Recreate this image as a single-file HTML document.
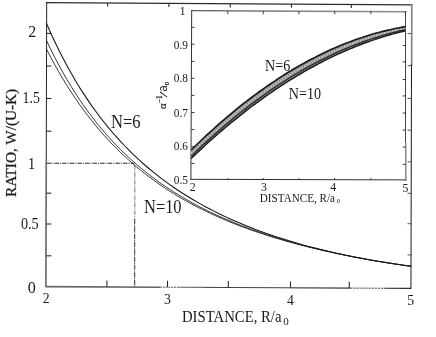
<!DOCTYPE html>
<html><head><meta charset="utf-8"><title>chart</title>
<style>
html,body{margin:0;padding:0;background:#fff;}
body{width:436px;height:337px;overflow:hidden;}
svg{display:block;font-family:"Liberation Serif",serif;filter:grayscale(1);}
text{fill:#1a1a1a;}
</style></head><body>
<svg width="436" height="337" viewBox="0 0 436 337">
<rect width="436" height="337" fill="#fff"/>

<g fill="none" stroke-linecap="square">
<path d="M46.7,2.6 L411.8,4.9" stroke="#2c2c2c" stroke-width="1.4"/>
<path d="M46.7,2.6 L46.25,163.3" stroke="#222" stroke-width="1.0"/>
<path d="M46.25,163.3 L45.9,286.5" stroke="#6e6e6e" stroke-width="1.7"/>
<path d="M45.9,286.60 L160,287.16" stroke="#666" stroke-width="1.55" stroke-linecap="butt"/>
<path d="M160,287.16 L178,287.25" stroke="#555" stroke-width="1.0" stroke-dasharray="2 0.8" stroke-linecap="butt"/>
<path d="M178,287.25 L205,287.38" stroke="#6a6a6a" stroke-width="1.15" stroke-linecap="butt"/>
<path d="M205,287.38 L290,287.80" stroke="#1c1c1c" stroke-width="0.85" stroke-linecap="butt"/>
<path d="M290,287.80 L350,288.10" stroke="#707070" stroke-width="1.55" stroke-linecap="butt"/>
<path d="M350,288.10 L385,288.27" stroke="#333" stroke-width="0.9" stroke-dasharray="2.2 0.9" stroke-linecap="butt"/>
<path d="M385,288.27 L411.0,288.40" stroke="#2a2a2a" stroke-width="1.2" stroke-linecap="butt"/>
<path d="M411.80,4.9 L411.64,65" stroke="#858585" stroke-width="1.7"/>
<path d="M411.49,65 L410.95,288.4" stroke="#1a1a1a" stroke-width="1.0"/>
</g>
<g fill="none" stroke="#2a2a2a" stroke-width="1.1" stroke-linecap="butt">
<path d="M46.3,33.4 h5"/>
<path d="M46.3,66 h5"/>
<path d="M46.3,98.5 h5"/>
<path d="M46.3,131.2 h5"/>
<path d="M46.3,193.2 h5"/>
<path d="M46.3,224 h5"/>
<path d="M46.3,255.8 h5"/>
<path d="M411.5,33.6 h-4" stroke="#555" stroke-width="1"/>
<path d="M411.5,65.7 h-4" stroke="#555" stroke-width="1"/>
<path d="M411.5,98.4 h-4" stroke="#555" stroke-width="1"/>
<path d="M411.5,130.2 h-4" stroke="#555" stroke-width="1"/>
<path d="M411.5,161.8 h-4" stroke="#555" stroke-width="1"/>
<path d="M411.5,193.3 h-4" stroke="#555" stroke-width="1"/>
<path d="M411.5,223.7 h-4" stroke="#555" stroke-width="1"/>
<path d="M411.5,254.9 h-4" stroke="#555" stroke-width="1"/>
<path d="M106.9,286.8 v-6.4"/>
<path d="M167.5,287.1 v-6.4"/>
<path d="M228.3,287.4 v-6.4"/>
<path d="M290.5,287.8 v-6.4"/>
<path d="M349.3,288.1 v-6.4"/>
<path d="M107.6,3.0 v3.6"/>
<path d="M168.9,3.4 v3.6"/>
<path d="M230.3,3.8 v3.6"/>
<path d="M291.5,4.1 v3.6"/>
<path d="M351.3,4.5 v3.6"/>
</g>
<g fill="none" stroke-linecap="square">
<path d="M191.7,10.7 L232,10.9" stroke="#333" stroke-width="1"/>
<path d="M232,10.9 L405.8,11.8" stroke="#8a8a8a" stroke-width="1.6"/>
<path d="M405.5,11.8 L405.5,143" stroke="#222" stroke-width="0.85"/>
<path d="M405.7,143 L405.8,179.9" stroke="#8a8a8a" stroke-width="1.5"/>
<path d="M405.8,179.9 L190.9,179.3" stroke="#2e2e2e" stroke-width="1"/>
<path d="M190.9,179.3 L191.7,10.7" stroke="#333" stroke-width="1"/>
</g>
<g fill="none" stroke="#2a2a2a" stroke-width="0.9" stroke-linecap="butt">
<path d="M191.3,27.3 h3.2"/>
<path d="M191.3,44.2 h3.2"/>
<path d="M191.3,61.4 h3.2"/>
<path d="M191.3,78.3 h3.2"/>
<path d="M191.3,95.4 h3.2"/>
<path d="M191.3,112.5 h3.2"/>
<path d="M191.3,129.5 h3.2"/>
<path d="M191.3,146.6 h3.2"/>
<path d="M191.3,163.5 h3.2"/>
<path d="M405.8,27.3 h-3.2"/>
<path d="M405.8,45.5 h-3.2"/>
<path d="M405.8,61.9 h-3.2"/>
<path d="M405.8,79.5 h-3.2"/>
<path d="M405.8,95.9 h-3.2"/>
<path d="M405.8,113 h-3.2"/>
<path d="M405.8,130 h-3.2"/>
<path d="M405.8,147.1 h-3.2"/>
<path d="M405.8,164.3 h-3.2"/>
<path d="M227.8,11.2 v3"/>
<path d="M227.8,179.6 v-1.5"/>
<path d="M263.3,11.2 v3"/>
<path d="M263.3,179.6 v-1.5"/>
<path d="M298.9,11.2 v3"/>
<path d="M298.9,179.6 v-1.5"/>
<path d="M334.7,11.2 v3"/>
<path d="M334.7,179.6 v-1.5"/>
<path d="M370.9,11.2 v3"/>
<path d="M370.9,179.6 v-1.5"/>
</g>
<path d="M47,163.3 H134.3" fill="none" stroke="#262626" stroke-width="1.05" stroke-dasharray="4.4 1 1.1 1.1"/>
<path d="M134.8,165 V219" fill="none" stroke="#8a8a8a" stroke-width="1.2" stroke-dasharray="4.4 1 1.1 1.1"/>
<path d="M134.7,219 V286.6" fill="none" stroke="#222" stroke-width="0.95" stroke-dasharray="5.2 0.7 1.0 0.7"/>
<g fill="none" stroke="#151515" stroke-width="1.05" stroke-linejoin="round">
<path d="M46.5,23.4 L50.6,32.7 L54.7,41.5 L58.8,50.0 L62.9,58.0 L67.0,65.7 L71.1,73.1 L75.2,80.2 L79.3,86.9 L83.4,93.4 L87.5,99.6 L91.6,105.6 L95.7,111.3 L99.8,116.8 L103.9,122.0 L108.0,127.1 L112.1,132.0 L116.2,136.7 L120.3,141.2 L124.4,145.5 L128.5,149.7 L132.6,153.8 L136.7,157.6 L140.7,161.4 L144.8,165.0 L148.9,168.5 L153.0,171.9 L157.1,175.2 L161.2,178.3 L165.3,181.4 L169.4,184.4 L173.5,187.2 L177.6,190.0 L181.7,192.7 L185.8,195.3 L189.9,197.8 L194.0,200.3 L198.1,202.6 L202.2,204.9 L206.3,207.2 L210.4,209.3 L214.5,211.4 L218.6,213.5 L222.7,215.4 L226.8,217.4 L230.9,219.2 L235.0,221.1 L239.1,222.8 L243.2,224.5 L247.3,226.2 L251.4,227.8 L255.5,229.4 L259.6,231.0 L263.7,232.4 L267.8,233.9 L271.9,235.3 L276.0,236.7 L280.1,238.0 L284.2,239.3 L288.3,240.6 L292.4,241.8 L296.5,243.0 L300.6,244.2 L304.7,245.4 L308.8,246.5 L312.9,247.5 L317.0,248.6 L321.0,249.6 L325.1,250.6 L329.2,251.6 L333.3,252.5 L337.4,253.4 L341.5,254.3 L345.6,255.2 L349.7,256.0 L353.8,256.9 L357.9,257.7 L362.0,258.4 L366.1,259.2 L370.2,259.9 L374.3,260.7 L378.4,261.4 L382.5,262.0 L386.6,262.7 L390.7,263.3 L394.8,264.0 L398.9,264.6 L403.0,265.2 L407.1,265.7 L411.2,266.3" stroke-width="1.05"/>
<path d="M46.5,40.5 L50.6,49.1 L54.7,57.3 L58.8,65.0 L62.9,72.5 L67.0,79.6 L71.1,86.4 L75.2,92.9 L79.3,99.2 L83.4,105.2 L87.5,110.9 L91.6,116.4 L95.7,121.7 L99.8,126.7 L103.9,131.6 L108.0,136.3 L112.1,140.8 L116.2,145.1 L120.3,149.3 L124.4,153.3 L128.5,157.2 L132.6,160.9 L136.7,164.5 L140.7,167.9 L144.8,171.3 L148.9,174.5 L153.0,177.6 L157.1,180.7 L161.2,183.6 L165.3,186.4 L169.4,189.1 L173.5,191.8 L177.6,194.3 L181.7,196.8 L185.8,199.2 L189.9,201.5 L194.0,203.8 L198.1,206.0 L202.2,208.1 L206.3,210.2 L210.4,212.2 L214.5,214.1 L218.6,216.0 L222.7,217.8 L226.8,219.6 L230.9,221.3 L235.0,223.0 L239.1,224.7 L243.2,226.3 L247.3,227.8 L251.4,229.3 L255.5,230.8 L259.6,232.2 L263.7,233.6 L267.8,235.0 L271.9,236.3 L276.0,237.6 L280.1,238.8 L284.2,240.1 L288.3,241.3 L292.4,242.4 L296.5,243.6 L300.6,244.7 L304.7,245.8 L308.8,246.8 L312.9,247.8 L317.0,248.8 L321.0,249.8 L325.1,250.8 L329.2,251.7 L333.3,252.6 L337.4,253.5 L341.5,254.4 L345.6,255.2 L349.7,256.0 L353.8,256.8 L357.9,257.6 L362.0,258.4 L366.1,259.2 L370.2,259.9 L374.3,260.6 L378.4,261.3 L382.5,262.0 L386.6,262.6 L390.7,263.3 L394.8,263.9 L398.9,264.5 L403.0,265.1 L407.1,265.7 L411.2,266.3" stroke-width="0.85"/>
<path d="M46.5,49.1 L50.6,57.1 L54.7,64.7 L58.8,71.9 L62.9,78.9 L67.0,85.6 L71.1,92.0 L75.2,98.2 L79.3,104.1 L83.4,109.8 L87.5,115.2 L91.6,120.5 L95.7,125.6 L99.8,130.4 L103.9,135.1 L108.0,139.6 L112.1,144.0 L116.2,148.1 L120.3,152.2 L124.4,156.1 L128.5,159.8 L132.6,163.4 L136.7,166.9 L140.7,170.3 L144.8,173.6 L148.9,176.7 L153.0,179.7 L157.1,182.7 L161.2,185.5 L165.3,188.3 L169.4,190.9 L173.5,193.5 L177.6,196.0 L181.7,198.4 L185.8,200.8 L189.9,203.0 L194.0,205.2 L198.1,207.4 L202.2,209.4 L206.3,211.4 L210.4,213.4 L214.5,215.3 L218.6,217.1 L222.7,218.9 L226.8,220.6 L230.9,222.3 L235.0,224.0 L239.1,225.6 L243.2,227.1 L247.3,228.6 L251.4,230.1 L255.5,231.5 L259.6,232.9 L263.7,234.2 L267.8,235.6 L271.9,236.9 L276.0,238.1 L280.1,239.3 L284.2,240.5 L288.3,241.7 L292.4,242.8 L296.5,243.9 L300.6,245.0 L304.7,246.0 L308.8,247.1 L312.9,248.1 L317.0,249.0 L321.0,250.0 L325.1,250.9 L329.2,251.8 L333.3,252.7 L337.4,253.6 L341.5,254.4 L345.6,255.3 L349.7,256.1 L353.8,256.9 L357.9,257.6 L362.0,258.4 L366.1,259.1 L370.2,259.9 L374.3,260.6 L378.4,261.3 L382.5,261.9 L386.6,262.6 L390.7,263.3 L394.8,263.9 L398.9,264.5 L403.0,265.1 L407.1,265.7 L411.2,266.3" stroke-width="0.85"/>
</g>
<path d="M191.2,149.2 L194.3,146.2 L197.4,143.2 L200.5,140.2 L203.6,137.2 L206.7,134.3 L209.8,131.5 L213.0,128.6 L216.1,125.8 L219.2,123.1 L222.3,120.4 L225.4,117.7 L228.5,115.0 L231.6,112.4 L234.7,109.9 L237.8,107.3 L240.9,104.8 L244.0,102.4 L247.1,100.0 L250.2,97.6 L253.3,95.3 L256.5,92.9 L259.6,90.7 L262.7,88.5 L265.8,86.3 L268.9,84.1 L272.0,82.0 L275.1,79.9 L278.2,77.9 L281.3,75.9 L284.4,73.9 L287.5,72.0 L290.6,70.1 L293.7,68.2 L296.8,66.4 L300.0,64.6 L303.1,62.9 L306.2,61.2 L309.3,59.5 L312.4,57.9 L315.5,56.3 L318.6,54.7 L321.7,53.2 L324.8,51.7 L327.9,50.3 L331.0,48.9 L334.1,47.5 L337.2,46.2 L340.3,44.9 L343.5,43.6 L346.6,42.4 L349.7,41.2 L352.8,40.1 L355.9,38.9 L359.0,37.9 L362.1,36.8 L365.2,35.8 L368.3,34.9 L371.4,34.0 L374.5,33.1 L377.6,32.2 L380.7,31.4 L383.8,30.6 L387.0,29.9 L390.1,29.2 L393.2,28.5 L396.3,27.9 L399.4,27.3 L402.5,26.7 L405.6,26.2 L405.6,31.1 L402.5,31.8 L399.4,32.6 L396.3,33.4 L393.2,34.3 L390.1,35.2 L387.0,36.1 L383.8,37.0 L380.7,38.0 L377.6,39.0 L374.5,40.0 L371.4,41.1 L368.3,42.2 L365.2,43.4 L362.1,44.5 L359.0,45.7 L355.9,47.0 L352.8,48.2 L349.7,49.5 L346.6,50.9 L343.5,52.2 L340.3,53.6 L337.2,55.1 L334.1,56.5 L331.0,58.0 L327.9,59.5 L324.8,61.1 L321.7,62.7 L318.6,64.3 L315.5,66.0 L312.4,67.7 L309.3,69.4 L306.2,71.1 L303.1,72.9 L300.0,74.7 L296.8,76.6 L293.7,78.5 L290.6,80.4 L287.5,82.3 L284.4,84.3 L281.3,86.3 L278.2,88.4 L275.1,90.5 L272.0,92.6 L268.9,94.7 L265.8,96.9 L262.7,99.1 L259.6,101.4 L256.5,103.6 L253.3,106.0 L250.2,108.3 L247.1,110.7 L244.0,113.1 L240.9,115.5 L237.8,118.0 L234.7,120.5 L231.6,123.0 L228.5,125.6 L225.4,128.2 L222.3,130.9 L219.2,133.5 L216.1,136.2 L213.0,139.0 L209.8,141.8 L206.7,144.6 L203.6,147.4 L200.5,150.3 L197.4,153.2 L194.3,156.1 L191.2,159.1 Z" fill="#8e8e8e" stroke="none"/>
<path d="M191.2,153.2 L194.3,150.2 L197.4,147.2 L200.5,144.2 L203.6,141.3 L206.7,138.4 L209.8,135.6 L213.0,132.8 L216.1,130.0 L219.2,127.3 L222.3,124.6 L225.4,121.9 L228.5,119.3 L231.6,116.7 L234.7,114.1 L237.8,111.6 L240.9,109.1 L244.0,106.7 L247.1,104.3 L250.2,101.9 L253.3,99.5 L256.5,97.2 L259.6,95.0 L262.7,92.7 L265.8,90.5 L268.9,88.4 L272.0,86.2 L275.1,84.1 L278.2,82.1 L281.3,80.1 L284.4,78.1 L287.5,76.1 L290.6,74.2 L293.7,72.3 L296.8,70.5 L300.0,68.7 L303.1,66.9 L306.2,65.2 L309.3,63.5 L312.4,61.8 L315.5,60.2 L318.6,58.6 L321.7,57.0 L324.8,55.5 L327.9,54.0 L331.0,52.5 L334.1,51.1 L337.2,49.7 L340.3,48.4 L343.5,47.1 L346.6,45.8 L349.7,44.5 L352.8,43.3 L355.9,42.2 L359.0,41.0 L362.1,39.9 L365.2,38.8 L368.3,37.8 L371.4,36.8 L374.5,35.9 L377.6,34.9 L380.7,34.0 L383.8,33.2 L387.0,32.4 L390.1,31.6 L393.2,30.8 L396.3,30.1 L399.4,29.4 L402.5,28.8 L405.6,28.2" fill="none" stroke="#cfcfcf" stroke-width="2.2" stroke-dasharray="1.3 1.5"/>
<path d="M191.2,157.4 L194.3,154.4 L197.4,151.5 L200.5,148.6 L203.6,145.7 L206.7,142.8 L209.8,140.0 L213.0,137.2 L216.1,134.5 L219.2,131.8 L222.3,129.1 L225.4,126.4 L228.5,123.8 L231.6,121.2 L234.7,118.7 L237.8,116.2 L240.9,113.7 L244.0,111.3 L247.1,108.9 L250.2,106.5 L253.3,104.1 L256.5,101.8 L259.6,99.5 L262.7,97.3 L265.8,95.1 L268.9,92.9 L272.0,90.8 L275.1,88.7 L278.2,86.6 L281.3,84.6 L284.4,82.6 L287.5,80.6 L290.6,78.6 L293.7,76.7 L296.8,74.9 L300.0,73.0 L303.1,71.2 L306.2,69.4 L309.3,67.7 L312.4,66.0 L315.5,64.3 L318.6,62.7 L321.7,61.1 L324.8,59.5 L327.9,58.0 L331.0,56.5 L334.1,55.0 L337.2,53.5 L340.3,52.1 L343.5,50.8 L346.6,49.4 L349.7,48.1 L352.8,46.8 L355.9,45.6 L359.0,44.4 L362.1,43.2 L365.2,42.1 L368.3,41.0 L371.4,39.9 L374.5,38.9 L377.6,37.8 L380.7,36.9 L383.8,35.9 L387.0,35.0 L390.1,34.1 L393.2,33.3 L396.3,32.5 L399.4,31.7 L402.5,31.0 L405.6,30.3" fill="none" stroke="#d4d4d4" stroke-width="1.0" stroke-dasharray="2.2 1.2"/>
<path d="M191.2,156.1 L194.3,153.1 L197.4,150.2 L200.5,147.2 L203.6,144.3 L206.7,141.5 L209.8,138.7 L213.0,135.9 L216.1,133.1 L219.2,130.4 L222.3,127.7 L225.4,125.1 L228.5,122.4 L231.6,119.9 L234.7,117.3 L237.8,114.8 L240.9,112.3 L244.0,109.9 L247.1,107.5 L250.2,105.1 L253.3,102.7 L256.5,100.4 L259.6,98.2 L262.7,95.9 L265.8,93.7 L268.9,91.5 L272.0,89.4 L275.1,87.3 L278.2,85.2 L281.3,83.2 L284.4,81.2 L287.5,79.2 L290.6,77.3 L293.7,75.4 L296.8,73.5 L300.0,71.7 L303.1,69.9 L306.2,68.1 L309.3,66.4 L312.4,64.7 L315.5,63.1 L318.6,61.4 L321.7,59.8 L324.8,58.3 L327.9,56.8 L331.0,55.3 L334.1,53.8 L337.2,52.4 L340.3,51.0 L343.5,49.6 L346.6,48.3 L349.7,47.0 L352.8,45.8 L355.9,44.6 L359.0,43.4 L362.1,42.2 L365.2,41.1 L368.3,40.0 L371.4,39.0 L374.5,37.9 L377.6,37.0 L380.7,36.0 L383.8,35.1 L387.0,34.2 L390.1,33.4 L393.2,32.5 L396.3,31.8 L399.4,31.0 L402.5,30.3 L405.6,29.6" fill="none" stroke="#2a2a2a" stroke-width="1.3"/>
<path d="M191.2,150.0 L194.3,147.0 L197.4,144.0 L200.5,141.0 L203.6,138.0 L206.7,135.1 L209.8,132.3 L213.0,129.5 L216.1,126.7 L219.2,123.9 L222.3,121.2 L225.4,118.5 L228.5,115.9 L231.6,113.3 L234.7,110.7 L237.8,108.2 L240.9,105.7 L244.0,103.2 L247.1,100.8 L250.2,98.5 L253.3,96.1 L256.5,93.8 L259.6,91.5 L262.7,89.3 L265.8,87.1 L268.9,85.0 L272.0,82.8 L275.1,80.8 L278.2,78.7 L281.3,76.7 L284.4,74.7 L287.5,72.8 L290.6,70.9 L293.7,69.0 L296.8,67.2 L300.0,65.4 L303.1,63.7 L306.2,62.0 L309.3,60.3 L312.4,58.7 L315.5,57.1 L318.6,55.5 L321.7,54.0 L324.8,52.5 L327.9,51.0 L331.0,49.6 L334.1,48.2 L337.2,46.9 L340.3,45.6 L343.5,44.3 L346.6,43.1 L349.7,41.9 L352.8,40.7 L355.9,39.6 L359.0,38.5 L362.1,37.5 L365.2,36.4 L368.3,35.5 L371.4,34.5 L374.5,33.6 L377.6,32.8 L380.7,31.9 L383.8,31.1 L387.0,30.4 L390.1,29.7 L393.2,29.0 L396.3,28.3 L399.4,27.7 L402.5,27.1 L405.6,26.6" fill="none" stroke="#1c1c1c" stroke-width="1.6"/>
<path d="M191.2,158.4 L194.3,155.4 L197.4,152.5 L200.5,149.6 L203.6,146.7 L206.7,143.8 L209.8,141.0 L213.0,138.3 L216.1,135.5 L219.2,132.8 L222.3,130.1 L225.4,127.5 L228.5,124.9 L231.6,122.3 L234.7,119.8 L237.8,117.3 L240.9,114.8 L244.0,112.3 L247.1,109.9 L250.2,107.5 L253.3,105.2 L256.5,102.9 L259.6,100.6 L262.7,98.4 L265.8,96.2 L268.9,94.0 L272.0,91.8 L275.1,89.7 L278.2,87.7 L281.3,85.6 L284.4,83.6 L287.5,81.6 L290.6,79.7 L293.7,77.8 L296.8,75.9 L300.0,74.0 L303.1,72.2 L306.2,70.4 L309.3,68.7 L312.4,67.0 L315.5,65.3 L318.6,63.6 L321.7,62.0 L324.8,60.4 L327.9,58.9 L331.0,57.4 L334.1,55.9 L337.2,54.4 L340.3,53.0 L343.5,51.6 L346.6,50.3 L349.7,48.9 L352.8,47.7 L355.9,46.4 L359.0,45.2 L362.1,44.0 L365.2,42.8 L368.3,41.7 L371.4,40.6 L374.5,39.6 L377.6,38.5 L380.7,37.5 L383.8,36.6 L387.0,35.6 L390.1,34.7 L393.2,33.9 L396.3,33.0 L399.4,32.2 L402.5,31.5 L405.6,30.7" fill="none" stroke="#1c1c1c" stroke-width="1.5"/>
<text x="32.3" y="37.2" font-size="16" text-anchor="middle">2</text>
<text x="22.6" y="102.8" font-size="16" text-anchor="start" textLength="17.2" lengthAdjust="spacingAndGlyphs">1.5</text>
<text x="27.9" y="168.5" font-size="16" text-anchor="start" textLength="7.2" lengthAdjust="spacingAndGlyphs">1</text>
<text x="20.9" y="228.6" font-size="16" text-anchor="start" textLength="17.8" lengthAdjust="spacingAndGlyphs">0.5</text>
<text x="31.7" y="293.4" font-size="16" text-anchor="middle">0</text>
<text x="46.2" y="303.0" font-size="15.4" text-anchor="middle" textLength="6.9" lengthAdjust="spacingAndGlyphs">2</text>
<text x="167.5" y="303.8" font-size="15.4" text-anchor="middle" textLength="6.9" lengthAdjust="spacingAndGlyphs">3</text>
<text x="290.5" y="304.5" font-size="15.4" text-anchor="middle" textLength="6.9" lengthAdjust="spacingAndGlyphs">4</text>
<text x="410.8" y="305.1" font-size="15.4" text-anchor="middle" textLength="6.9" lengthAdjust="spacingAndGlyphs">5</text>
<text x="181.9" y="321.7" font-size="16" text-anchor="start" textLength="99.6" lengthAdjust="spacingAndGlyphs">DISTANCE, R/a</text>
<text x="283.3" y="325.4" font-size="11" text-anchor="start">0</text>
<text transform="translate(16.4,197.0) rotate(-90)" font-size="15.6" textLength="108.2" lengthAdjust="spacingAndGlyphs" stroke="#1a1a1a" stroke-width="0.25">RATIO, W/(U-K)</text>
<text x="111.0" y="127.5" font-size="19" text-anchor="start" textLength="29.6" lengthAdjust="spacingAndGlyphs">N=6</text>
<text x="144.0" y="212.5" font-size="18" text-anchor="start" textLength="37.6" lengthAdjust="spacingAndGlyphs">N=10</text>
<text x="265.0" y="70.6" font-size="16.5" text-anchor="start" textLength="25.2" lengthAdjust="spacingAndGlyphs">N=6</text>
<text x="288.8" y="99.2" font-size="16.5" text-anchor="start" textLength="32.2" lengthAdjust="spacingAndGlyphs">N=10</text>
<text x="185.6" y="14.9" font-size="12.2" text-anchor="end">1</text>
<text x="173.8" y="48.6" font-size="12.2" text-anchor="start" textLength="14.2" lengthAdjust="spacingAndGlyphs">0.9</text>
<text x="173.8" y="82.1" font-size="12.2" text-anchor="start" textLength="14.2" lengthAdjust="spacingAndGlyphs">0.8</text>
<text x="173.8" y="116.89999999999999" font-size="12.2" text-anchor="start" textLength="14.2" lengthAdjust="spacingAndGlyphs">0.7</text>
<text x="173.8" y="150.29999999999998" font-size="12.2" text-anchor="start" textLength="14.2" lengthAdjust="spacingAndGlyphs">0.6</text>
<text x="173.8" y="183.5" font-size="12.2" text-anchor="start" textLength="14.2" lengthAdjust="spacingAndGlyphs">0.5</text>
<text x="192.7" y="190.7" font-size="11.8" text-anchor="middle">2</text>
<text x="263.9" y="190.9" font-size="11.8" text-anchor="middle">3</text>
<text x="333.3" y="191.3" font-size="11.8" text-anchor="middle">4</text>
<text x="405.5" y="192.3" font-size="11.8" text-anchor="middle">5</text>
<text x="259.8" y="201.9" font-size="11.5" text-anchor="start" textLength="75.2" lengthAdjust="spacingAndGlyphs">DISTANCE, R/a</text>
<text x="336.7" y="203.2" font-size="6.6" text-anchor="start">0</text>
<g transform="translate(166.1,109.3) rotate(-90)">
<text x="0.4" y="0" font-size="10.6" stroke="#1a1a1a" stroke-width="0.25">α</text>
<text x="6.3" y="-3.7" font-size="7.4" textLength="7.6" lengthAdjust="spacingAndGlyphs" stroke="#1a1a1a" stroke-width="0.2">−1</text>
<text x="11.8" y="0.6" font-size="11" textLength="6.2" lengthAdjust="spacingAndGlyphs">/</text>
<text x="17.8" y="1.2" font-size="12.4" font-family="Liberation Sans, sans-serif" textLength="6.0" lengthAdjust="spacingAndGlyphs">a</text>
<text x="24.0" y="2.6" font-size="7" stroke="#1a1a1a" stroke-width="0.2">0</text>
</g>
</svg></body></html>
